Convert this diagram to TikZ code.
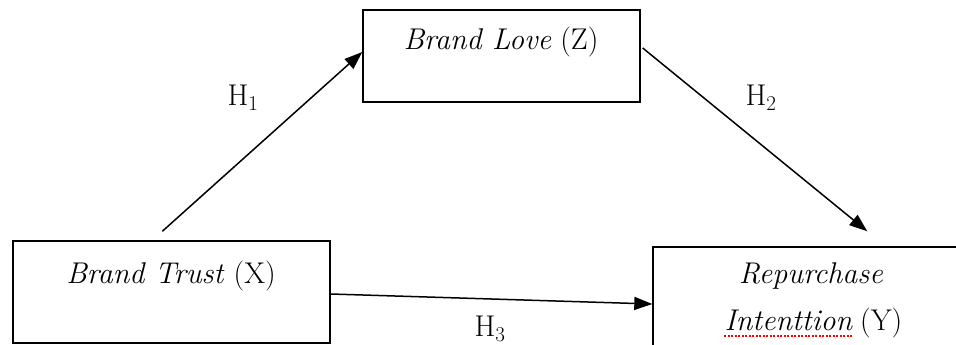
\documentclass[tikz,border=0pt]{standalone}
\usetikzlibrary{arrows.meta}
\begin{document}
\begin{tikzpicture}[x=1pt,y=-1pt,
  box/.style={draw,line width=1.4pt,inner sep=0pt},
  lbl/.style={inner sep=0pt,font=\fontsize{30}{35}\selectfont},
  arr/.style={line width=1.5pt,-{Triangle[length=18pt,width=13pt]}}]
\useasboundingbox (0,0) rectangle (956,345);
% boxes
\node[box,minimum width=317pt,minimum height=102pt] (bt) at (171.5,292) {};
\node[box,minimum width=277pt,minimum height=92pt] (bl) at (501.5,56) {};
\node[box,minimum width=320pt,minimum height=110pt] (rp) at (813,302) {};
% texts
\node[lbl,anchor=base] (btt) at (171,283) {\textit{Brand Trust} (X)};
\node[lbl,anchor=base] (blt) at (501,50) {\textit{Brand Love} (Z)};
\node[lbl,anchor=base] (rpt) at (811,283) {\textit{Repurchase}};
\node[lbl,anchor=base east] (itt) at (853,330) {\textit{Intenttion}};
\node[lbl,anchor=base west] (yt) at ([xshift=7pt]itt.base east) {(Y)};
\draw[red,line width=1.3pt,dash pattern=on 2pt off 1.5pt] ([yshift=-6pt]itt.base west) -- ([yshift=-6pt]itt.base east);
% arrows
\draw[arr] ([xshift=150pt,yshift=9pt]bt.north west) -- ([yshift=4pt]bl.west);
\draw[arr] ([xshift=2pt,yshift=8pt]bl.east) -- ([xshift=215pt,yshift=15pt]rp.north west);
\draw[arr] ([yshift=-2pt]bt.east) -- ([yshift=-2pt]rp.west);
% hypothesis labels
\node[lbl] (h1) at (243,98) {H\textsubscript{1}};
\node[lbl] (h2) at (761,98) {H\textsubscript{2}};
\node[lbl] (h3) at (490,329) {H\textsubscript{3}};
\end{tikzpicture}
\end{document}
